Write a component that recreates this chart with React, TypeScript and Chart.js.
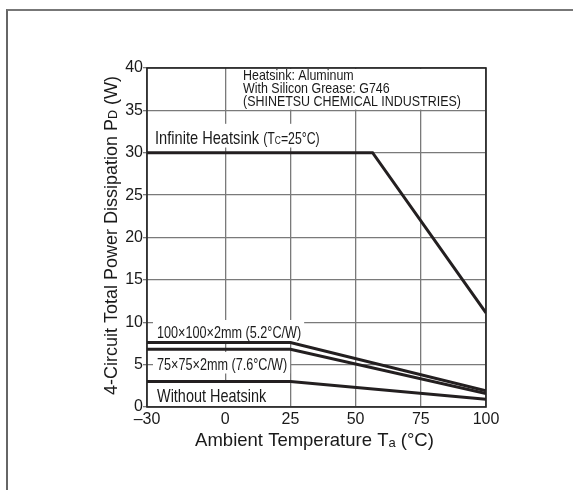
import React, { useEffect, useRef } from 'react';
import { Chart, registerables } from 'chart.js';

Chart.register(...registerables);

// ---- data ----
const xTicks = [-30, 0, 25, 50, 75, 100];
const yTicks = [0, 5, 10, 15, 20, 25, 30, 35, 40];
const infiniteX = [-30, 56.5, 100];
const infiniteY = [30, 30, 11.1];
const heatsinkX = [-30, 25, 100];
const hs100Y = [7.6, 7.6, 1.9];
const hs75Y = [6.8, 6.8, 1.6];
const noneX = [-30, 25, 100];
const noneY = [3.0, 3.0, 0.9];
const noteLines = [
  'Heatsink: Aluminum',
  'With Silicon Grease: G746',
  '(SHINETSU CHEMICAL INDUSTRIES)',
];

const FONT = '"Liberation Sans", Arial, Helvetica, sans-serif';
const LINE = '#231f20';
const GRID = '#7a7a7a';

type Part = { t: string; s: number; dy?: number };

function richWidth(ctx: CanvasRenderingContext2D, parts: Part[]) {
  let w = 0;
  for (const p of parts) {
    ctx.font = `${p.s}px ${FONT}`;
    w += ctx.measureText(p.t).width;
  }
  return w;
}

function drawRich(
  ctx: CanvasRenderingContext2D,
  x: number,
  y: number,
  parts: Part[],
  sx = 1,
  align: 'left' | 'center' = 'left'
) {
  const w = richWidth(ctx, parts) * sx;
  ctx.save();
  ctx.translate(align === 'center' ? x - w / 2 : x, y);
  ctx.scale(sx, 1);
  ctx.textBaseline = 'alphabetic';
  ctx.textAlign = 'left';
  ctx.fillStyle = '#1a1a1a';
  let cx = 0;
  for (const p of parts) {
    ctx.font = `${p.s}px ${FONT}`;
    ctx.fillText(p.t, cx, p.dy || 0);
    cx += ctx.measureText(p.t).width;
  }
  ctx.restore();
  return w;
}

const zip = (xs: number[], ys: number[]) => xs.map((x, i) => ({ x, y: ys[i] }));

const labels: { parts: Part[]; dx: number; base: number; sx: number }[] = [
  {
    parts: [
      { t: 'Infinite Heatsink ', s: 19 },
      { t: '(T', s: 16 },
      { t: 'C', s: 11, dy: 0.5 },
      { t: '=25°C)', s: 16 },
    ],
    dx: 8,
    base: 143.5,
    sx: 0.77,
  },
  { parts: [{ t: '100×100×2mm (5.2°C/W)', s: 16 }], dx: 10, base: 337.5, sx: 0.79 },
  { parts: [{ t: '75×75×2mm (7.6°C/W)', s: 16 }], dx: 10, base: 369.5, sx: 0.79 },
  { parts: [{ t: 'Without Heatsink', s: 19 }], dx: 10, base: 402, sx: 0.76 },
];

const decorPlugin = {
  id: 'decor',
  beforeDatasetsDraw(chart: any) {
    const { ctx, chartArea: a, scales } = chart;
    const ys = scales.y;
    ctx.save();
    ctx.fillStyle = '#ffffff';
    // note box background
    ctx.fillRect(a.left + 94, a.top + 1, a.right - a.left - 95, ys.getPixelForValue(35) - a.top - 1.8);
    // label backgrounds
    for (const l of labels) {
      const w = richWidth(ctx, l.parts) * l.sx;
      const cap = Math.max(...l.parts.map((p) => p.s)) * 0.72;
      ctx.fillRect(a.left + l.dx - 4, l.base - cap - 6, w + 7, cap + 10);
    }
    ctx.restore();
  },
  afterDatasetsDraw(chart: any) {
    const { ctx, chartArea: a } = chart;
    ctx.save();
    // plot frame
    ctx.strokeStyle = '#222';
    ctx.lineWidth = 1.6;
    ctx.strokeRect(a.left, a.top, a.right - a.left, a.bottom - a.top);
    // curve labels
    for (const l of labels) drawRich(ctx, a.left + l.dx, l.base, l.parts, l.sx);
    // note
    noteLines.forEach((t, i) => drawRich(ctx, a.left + 96, 80 + i * 13, [{ t, s: 15 }], 0.83));
    // x title
    drawRich(
      ctx,
      (a.left + a.right) / 2 - 2,
      446,
      [
        { t: 'Ambient Temperature T', s: 18.5 },
        { t: 'a', s: 13, dy: 1 },
        { t: ' (°C)', s: 18.5 },
      ],
      1,
      'center'
    );
    // y title
    ctx.save();
    ctx.translate(117, (a.top + a.bottom) / 2 - 2);
    ctx.rotate(-Math.PI / 2);
    drawRich(
      ctx,
      0,
      0,
      [
        { t: '4-Circuit Total Power Dissipation P', s: 18 },
        { t: 'D', s: 12.5, dy: 0 },
        { t: ' (W)', s: 18 },
      ],
      1,
      'center'
    );
    ctx.restore();
    ctx.restore();
  },
};

export default function App() {
  const ref = useRef<HTMLCanvasElement | null>(null);
  useEffect(() => {
    if (!ref.current) return;
    const ds = (data: any) => ({
      data,
      borderColor: LINE,
      borderWidth: 3,
      pointRadius: 0,
      fill: false,
      tension: 0,
    });
    const chart = new Chart(ref.current, {
      type: 'line',
      data: {
        datasets: [
          ds(zip(infiniteX, infiniteY)),
          ds(zip(heatsinkX, hs100Y)),
          ds(zip(heatsinkX, hs75Y)),
          ds(zip(noneX, noneY)),
        ],
      },
      options: {
        animation: false,
        responsive: false,
        devicePixelRatio: 1,
        layout: { padding: { left: 107, right: 87, top: 68, bottom: 53 } },
        plugins: { legend: { display: false }, tooltip: { enabled: false } },
        scales: {
          x: {
            type: 'linear',
            min: -30,
            max: 100,
            afterBuildTicks: (s: any) => {
              s.ticks = xTicks.map((v) => ({ value: v }));
            },
            afterFit: (s: any) => {
              s.height = 30;
            },
            grid: { color: GRID, lineWidth: 1.3, drawTicks: false },
            border: { display: false },
            ticks: {
              padding: 3,
              color: '#1a1a1a',
              font: { family: FONT, size: 16 },
              callback: (v: any) => (Number(v) < 0 ? '–' + Math.abs(Number(v)) : String(v)),
            },
          },
          y: {
            type: 'linear',
            min: 0,
            max: 40,
            afterBuildTicks: (s: any) => {
              s.ticks = yTicks.map((v) => ({ value: v }));
            },
            afterFit: (s: any) => {
              s.width = 40;
            },
            grid: { color: GRID, lineWidth: 1.3, drawTicks: true, tickLength: 4, tickColor: GRID },
            border: { display: false },
            ticks: {
              padding: 0,
              color: '#1a1a1a',
              font: { family: FONT, size: 16 },
            },
          },
        },
      },
      plugins: [decorPlugin],
    });
    return () => chart.destroy();
  }, []);

  return (
    <div
      style={{
        position: 'fixed',
        left: 0,
        top: 0,
        width: 573,
        height: 490,
        background: '#fff',
        overflow: 'hidden',
      }}
    >
      <div
        style={{
          position: 'absolute',
          left: 6,
          top: 9,
          width: 600,
          height: 600,
          borderTop: '2px solid #777',
          borderLeft: '2px solid #666',
        }}
      />
      <canvas
        ref={ref}
        width={573}
        height={490}
        style={{ position: 'absolute', left: 0, top: 0, width: 573, height: 490 }}
      />
    </div>
  );
}
